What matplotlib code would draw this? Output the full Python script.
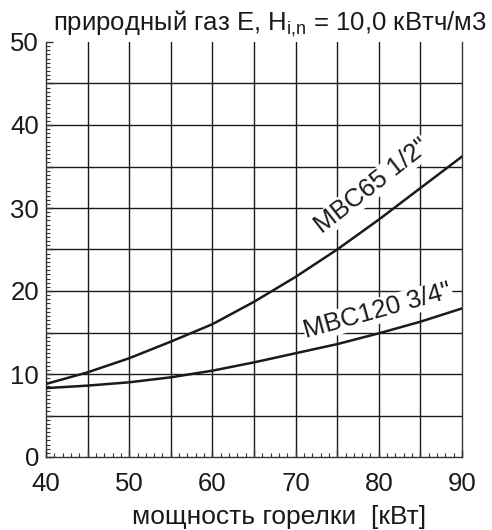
import matplotlib
matplotlib.use("Agg")
import matplotlib.pyplot as plt
from matplotlib.ticker import MultipleLocator, FuncFormatter

plt.rcParams['font.family'] = ['Liberation Sans', 'DejaVu Sans']
plt.rcParams['mathtext.fontset'] = 'custom'
plt.rcParams['mathtext.rm'] = 'Liberation Sans'
plt.rcParams['mathtext.it'] = 'Liberation Sans'

# power [kW] and pressure values
power = [40, 45, 50, 55, 60, 65, 70, 75, 80, 85, 90]
mbc65 = [8.8, 10.2, 11.9, 13.9, 16.0, 18.7, 21.7, 25.0, 28.6, 32.4, 36.2]
mbc120 = [8.3, 8.6, 9.0, 9.6, 10.4, 11.4, 12.5, 13.6, 14.9, 16.3, 17.9]

title = r"природный газ E, H$_{\mathrm{i{,}n}}$ = 10,0 кВтч/м3"
xlabel = "мощность горелки  [кВт]"
label65 = 'MBC65 1/2"'
label120 = 'MBC120 3/4"'

fig = plt.figure(figsize=(4.92, 5.30), dpi=100)
ax = fig.add_axes([46/492, 1-457/530, (462-46)/492, (457-42)/530])

ax.set_xlim(40, 90)
ax.set_ylim(0, 50)

# grid drawn by hand so that no line sits on the top edge
for gx in range(45, 90, 5):
    ax.axvline(gx, color='#1a1a1a', lw=1.0, zorder=1)
for gy in range(5, 50, 5):
    ax.axhline(gy, color='#1a1a1a', lw=1.0, zorder=1)

ax.plot(power, mbc65, color='#1a1a1a', lw=1.8, zorder=3, solid_joinstyle='round')
ax.plot(power, mbc120, color='#1a1a1a', lw=1.8, zorder=3, solid_joinstyle='round')

ax.text(79.2, 32.6, label65, rotation=38, fontsize=18.5, ha='center', va='center',
        rotation_mode='anchor', color='#1a1a1a', zorder=4,
        bbox=dict(fc='white', ec='none', pad=0.5))
ax.text(79.9, 17.6, label120, rotation=15.5, fontsize=18.5, ha='center', va='center',
        rotation_mode='anchor', color='#1a1a1a', zorder=4,
        bbox=dict(fc='white', ec='none', pad=0.5))

ax.spines['top'].set_visible(False)
for s in ['left', 'bottom', 'right']:
    ax.spines[s].set_color('#333333')
    ax.spines[s].set_linewidth(1.0)

ax.xaxis.set_major_locator(MultipleLocator(5))
ax.xaxis.set_minor_locator(MultipleLocator(1))
ax.yaxis.set_major_locator(MultipleLocator(5))
ax.yaxis.set_minor_locator(MultipleLocator(0.5))
fmt = FuncFormatter(lambda v, p: "%d" % v if int(round(v)) % 10 == 0 else "")
ax.xaxis.set_major_formatter(fmt)
ax.yaxis.set_major_formatter(fmt)

ax.tick_params(which='major', direction='in', length=5, width=1.0, color='#333333',
               labelsize=18.5, labelcolor='#1a1a1a')
ax.tick_params(which='minor', direction='in', length=3, width=0.8, color='#333333')
ax.tick_params(axis='x', which='major', pad=11)
ax.tick_params(axis='y', which='major', pad=5)
ax.tick_params(top=False, right=False, which='both')

fig.text(270/492, 1-30/530, title, ha='center', va='baseline', fontsize=18.5, color='#1a1a1a')
fig.text(279/492, 1-524/530, xlabel, ha='center', va='baseline', fontsize=19, color='#1a1a1a')

fig.savefig("out.png", dpi=100)
